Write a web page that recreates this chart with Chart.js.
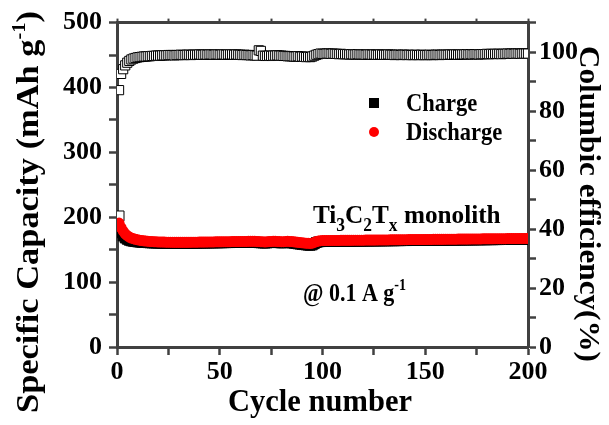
<!DOCTYPE html>
<html>
<head>
<meta charset="utf-8">
<script src="https://cdn.jsdelivr.net/npm/chart.js@4/dist/chart.umd.min.js"></script>
<style>
  body { margin: 0; background: #fff; }
</style>
</head>
<body>
<canvas id="chart" width="609" height="425"></canvas>
<script>
// capacity, mAh g-1 (cycles 1..200)
var charge = [
  202, 176, 171, 168, 166, 164.5, 163.5, 163, 162.5, 162,
  161.7, 161.4, 161.2, 161.0, 160.8, 160.6, 160.5, 160.4, 160.3, 160.2,
  160.1, 160.0, 160.0, 159.9, 159.9, 159.9, 159.8, 159.8, 159.8, 159.8,
  159.8, 159.8, 159.9, 159.9, 159.9, 160.0, 160.0, 160.1, 160.1, 160.2,
  160.2, 160.3, 160.3, 160.4, 160.4, 160.5, 160.5, 160.6, 160.6, 160.7,
  160.7, 160.8, 160.8, 160.9, 160.9, 161.0, 161.0, 161.1, 161.1, 161.2,
  161.2, 161.3, 161.3, 161.4, 161.4, 161.5, 161.5, 161.2, 160.8, 160.6,
  160.4, 160.2, 160.5, 160.8, 161.0, 161.2, 161.3, 161.0, 160.7, 160.5,
  160.6, 160.9, 161.1, 160.9, 160.5, 160.0, 159.5, 159.0, 158.6, 158.2,
  157.8, 157.4, 157.0, 156.8, 157.4, 159.2, 161.0, 162.0, 162.4, 162.6,
  162.7, 162.7, 162.8, 162.8, 162.8, 162.9, 162.9, 162.9, 163.0, 163.0,
  163.0, 163.1, 163.1, 163.1, 163.2, 163.2, 163.2, 163.3, 163.3, 163.3,
  163.4, 163.4, 163.4, 163.5, 163.5, 163.5, 163.6, 163.6, 163.6, 163.7,
  163.7, 163.7, 163.8, 163.8, 163.8, 163.9, 163.9, 163.9, 164.0, 164.0,
  164.0, 164.1, 164.1, 164.1, 164.2, 164.2, 164.2, 164.3, 164.3, 164.3,
  164.4, 164.4, 164.4, 164.5, 164.5, 164.5, 164.6, 164.6, 164.6, 164.7,
  164.7, 164.7, 164.8, 164.8, 164.8, 164.9, 164.9, 164.9, 165.0, 165.0,
  165.0, 165.1, 165.1, 165.1, 165.2, 165.2, 165.2, 165.3, 165.3, 165.3,
  165.4, 165.4, 165.4, 165.5, 165.5, 165.5, 165.6, 165.6, 165.6, 165.7,
  165.7, 165.7, 165.8, 165.8, 165.8, 165.9, 165.9, 165.9, 166.0, 166.0
];
var discharge = [
  191, 184, 178.5, 174.5, 171.5, 169.5, 168, 167, 166, 165.2,
  164.6, 164.1, 163.7, 163.4, 163.1, 162.8, 162.6, 162.4, 162.2, 162.0,
  161.9, 161.8, 161.7, 161.6, 161.5, 161.5, 161.4, 161.4, 161.3, 161.3,
  161.3, 161.3, 161.4, 161.4, 161.4, 161.5, 161.5, 161.6, 161.6, 161.7,
  161.7, 161.8, 161.8, 161.9, 161.9, 162.0, 162.0, 162.1, 162.1, 162.2,
  162.2, 162.3, 162.3, 162.4, 162.4, 162.5, 162.5, 162.6, 162.6, 162.7,
  162.7, 162.8, 162.8, 162.9, 162.9, 163.0, 163.0, 162.8, 162.6, 162.4,
  162.2, 162.0, 162.2, 162.5, 162.7, 162.9, 163.0, 162.8, 162.5, 162.3,
  162.4, 162.7, 162.9, 162.8, 162.5, 162.1, 161.7, 161.3, 161.0, 160.7,
  160.4, 160.1, 159.8, 159.6, 160.0, 161.2, 162.6, 163.4, 163.8, 164.0,
  164.1, 164.1, 164.2, 164.2, 164.2, 164.3, 164.3, 164.3, 164.4, 164.4,
  164.4, 164.5, 164.5, 164.5, 164.6, 164.6, 164.6, 164.7, 164.7, 164.7,
  164.8, 164.8, 164.8, 164.9, 164.9, 164.9, 165.0, 165.0, 165.0, 165.1,
  165.1, 165.1, 165.2, 165.2, 165.2, 165.3, 165.3, 165.3, 165.4, 165.4,
  165.4, 165.5, 165.5, 165.5, 165.6, 165.6, 165.6, 165.7, 165.7, 165.7,
  165.8, 165.8, 165.8, 165.9, 165.9, 165.9, 166.0, 166.0, 166.0, 166.1,
  166.1, 166.1, 166.2, 166.2, 166.2, 166.3, 166.3, 166.3, 166.4, 166.4,
  166.4, 166.5, 166.5, 166.5, 166.6, 166.6, 166.6, 166.7, 166.7, 166.7,
  166.8, 166.8, 166.8, 166.9, 166.9, 166.9, 167.0, 167.0, 167.0, 167.1,
  167.1, 167.1, 167.2, 167.2, 167.2, 167.3, 167.3, 167.3, 167.4, 167.4
];
// coulombic efficiency, %
var efficiency = [
  87.1, 92.6, 94.2, 95.5, 96.4, 97.0, 97.5, 97.8, 98.0, 98.2,
  98.3, 98.4, 98.5, 98.5, 98.6, 98.6, 98.7, 98.7, 98.8, 98.8,
  98.8, 98.9, 98.9, 98.9, 99.0, 99.0, 99.0, 98.9, 99.0, 99.0,
  99.1, 99.0, 99.0, 99.1, 99.1, 99.0, 99.1, 99.1, 99.1, 99.2,
  99.1, 99.1, 99.2, 99.1, 99.2, 99.2, 99.1, 99.2, 99.2, 99.1,
  99.2, 99.2, 99.1, 99.2, 99.2, 99.2, 99.1, 99.2, 99.1, 99.1,
  99.0, 99.1, 99.0, 99.0, 98.9, 99.0, 98.9, 98.8, 100.6, 100.4,
  98.8, 98.7, 98.7, 98.8, 98.7, 98.8, 98.8, 98.9, 98.8, 98.8,
  98.7, 98.7, 98.6, 98.6, 98.6, 98.5, 98.5, 98.6, 98.4, 98.5,
  98.4, 98.3, 98.4, 98.3, 98.5, 98.8, 99.1, 99.3, 99.5, 99.4,
  99.4, 99.5, 99.5, 99.4, 99.5, 99.4, 99.4, 99.3, 99.4, 99.3,
  99.3, 99.3, 99.2, 99.3, 99.2, 99.2, 99.3, 99.2, 99.2, 99.2,
  99.1, 99.2, 99.2, 99.1, 99.2, 99.1, 99.1, 99.2, 99.1, 99.1,
  99.1, 99.2, 99.1, 99.1, 99.0, 99.1, 99.1, 99.0, 99.1, 99.1,
  99.0, 99.1, 99.0, 99.0, 99.1, 99.0, 99.0, 99.1, 99.0, 99.0,
  99.0, 99.1, 99.0, 99.0, 99.1, 99.1, 99.0, 99.1, 99.1, 99.1,
  99.1, 99.2, 99.1, 99.2, 99.2, 99.1, 99.2, 99.2, 99.2, 99.3,
  99.2, 99.3, 99.2, 99.3, 99.3, 99.2, 99.3, 99.3, 99.3, 99.4,
  99.3, 99.4, 99.3, 99.4, 99.4, 99.4, 99.3, 99.4, 99.4, 99.5,
  99.4, 99.5, 99.4, 99.5, 99.5, 99.4, 99.5, 99.5, 99.5, 99.5
];
var xTicksShown = [0, 50, 100, 150, 200];
var capTicksShown = [0, 100, 200, 300, 400, 500];
var effTicksShown = [0, 20, 40, 60, 80, 100];

function pts(arr) {
  return arr.map(function (v, i) { return { x: i + 1, y: v }; });
}

var FONT = 'Liberation Serif';
var AXIS = '#404040';

// draw a run of text pieces, [text, size, dy], scaled along the text
function runs(ctx, parts, x, y, sx) {
  ctx.save();
  ctx.translate(x, y);
  ctx.scale(sx || 1, 1);
  var cx = 0;
  parts.forEach(function (p) {
    ctx.font = 'bold ' + p[1] + 'px "' + FONT + '"';
    ctx.fillText(p[0], cx, p[2] || 0);
    cx += ctx.measureText(p[0]).width;
  });
  ctx.restore();
}
function runsWidth(ctx, parts) {
  var w = 0;
  parts.forEach(function (p) {
    ctx.font = 'bold ' + p[1] + 'px "' + FONT + '"';
    w += ctx.measureText(p[0]).width;
  });
  return w;
}
function titleFit(ctx, parts, cx, cy, angle, len) {
  var w = runsWidth(ctx, parts);
  ctx.save();
  ctx.translate(cx, cy);
  ctx.rotate(angle);
  runs(ctx, parts, -len / 2, 0, len / w);
  ctx.restore();
}

var textPlugin = {
  id: 'texts',
  afterDraw: function (chart) {
    var ctx = chart.ctx;
    ctx.save();
    ctx.fillStyle = '#000';
    ctx.textBaseline = 'alphabetic';
    ctx.textAlign = 'left';

    // legend
    ctx.fillRect(369, 98, 10, 10);
    ctx.fillStyle = '#ff0000';
    ctx.beginPath();
    ctx.arc(374, 132, 5, 0, Math.PI * 2);
    ctx.fill();
    ctx.fillStyle = '#000';
    runs(ctx, [['Charge', 25]], 406, 111, 0.9);
    runs(ctx, [['Discharge', 25]], 406, 140, 0.9);

    // annotations
    runs(ctx, [['Ti', 26], ['3', 18, 8], ['C', 26], ['2', 18, 8], ['T', 26], ['x', 18, 8], [' monolith', 26]], 313, 223, 0.97);
    runs(ctx, [['@', 25], [' 0.1 A g', 25], ['-1', 16, -11]], 303, 301, 0.88);

    // axis titles
    titleFit(ctx, [['Cycle number', 31]], 320, 411, 0, 184);
    titleFit(ctx, [['Specific Capacity (mAh g', 32], ['-1', 19, -13], [')', 32]], 38, 212, -Math.PI / 2, 402);
    titleFit(ctx, [['Columbic efficiency(%)', 30]], 580, 204, Math.PI / 2, 316);
    ctx.restore();
  }
};

var tickFont = { family: FONT, size: 26, weight: 'bold' };
var gridOpts = { drawOnChartArea: false, tickLength: 8, tickWidth: 2.5, tickColor: AXIS };
var borderOpts = { color: AXIS, width: 3 };

new Chart(document.getElementById('chart').getContext('2d'), {
  type: 'scatter',
  data: {
    datasets: [{
      label: 'Coulombic efficiency',
      data: pts(efficiency),
      yAxisID: 'y1',
      pointStyle: 'rect',
      pointRadius: 6.5,
      backgroundColor: '#ffffff',
      borderColor: '#000000',
      borderWidth: 1,
      order: 0
    }, {
      label: 'Discharge',
      data: pts(discharge),
      yAxisID: 'y',
      pointStyle: 'circle',
      pointRadius: 5.5,
      backgroundColor: '#ff0000',
      borderColor: '#ff0000',
      borderWidth: 0,
      order: 1
    }, {
      label: 'Charge',
      data: pts(charge),
      yAxisID: 'y',
      pointStyle: 'rect',
      pointRadius: 7,
      pointBackgroundColor: function (c) { return c.dataIndex === 0 ? '#ffffff' : '#000000'; },
      borderColor: '#000000',
      borderWidth: 1,
      order: 2
    }]
  },
  options: {
    responsive: false,
    animation: false,
    layout: { padding: 0 },
    plugins: { legend: { display: false }, tooltip: { enabled: false } },
    scales: {
      x: {
        type: 'linear', position: 'bottom', min: 0, max: 200,
        ticks: {
          stepSize: 25, autoSkip: false, maxRotation: 0, padding: 2, color: '#000', font: tickFont,
          callback: function (v) { return xTicksShown.indexOf(v) >= 0 ? v : ''; }
        },
        grid: gridOpts, border: borderOpts,
        afterFit: function (s) { s.height = 78; }
      },
      xTop: {
        type: 'linear', position: 'top', min: 0, max: 200,
        ticks: { stepSize: 25, display: false },
        grid: { drawOnChartArea: false, tickLength: 4, tickWidth: 2, tickColor: AXIS },
        border: borderOpts,
        afterFit: function (s) { s.height = 20; }
      },
      y: {
        position: 'left', min: 0, max: 500,
        ticks: {
          stepSize: 50, autoSkip: false, padding: 7, color: '#000', font: tickFont,
          callback: function (v) { return capTicksShown.indexOf(v) >= 0 ? v : ''; }
        },
        grid: gridOpts, border: borderOpts,
        afterFit: function (s) { s.width = 117; }
      },
      y1: {
        position: 'right', min: 0, max: 110,
        ticks: {
          stepSize: 10, autoSkip: false, padding: 3, color: '#000', font: tickFont,
          callback: function (v) { return effTicksShown.indexOf(v) >= 0 ? v : ''; }
        },
        grid: gridOpts, border: borderOpts,
        afterFit: function (s) { s.width = 81; }
      }
    }
  },
  plugins: [textPlugin]
});
</script>
</body>
</html>
